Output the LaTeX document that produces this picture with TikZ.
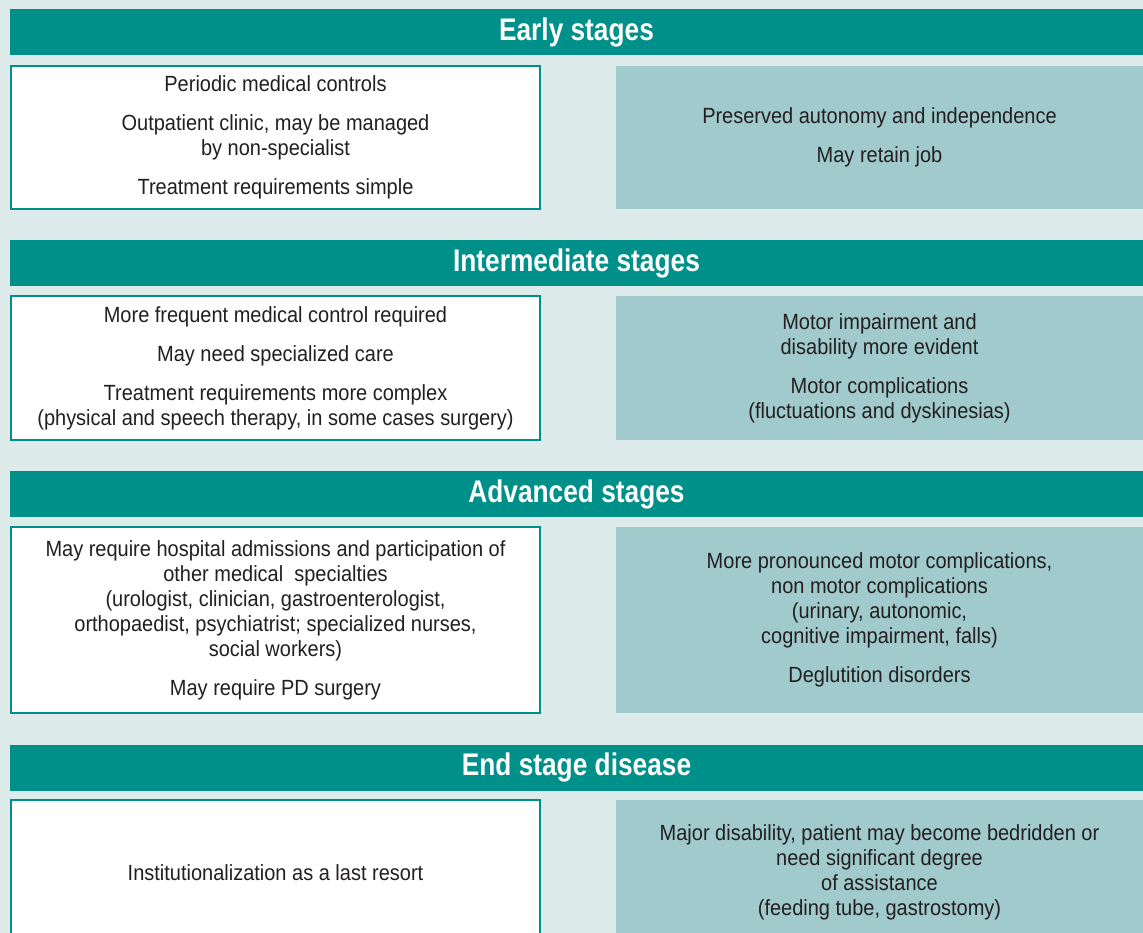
\documentclass[tikz,border=0pt]{standalone}
\usepackage{fontspec}
\setmainfont{Liberation Sans}[FakeStretch=0.91]
\newfontfamily\hdrfont{Liberation Sans}[FakeStretch=0.84]
\usepackage{tikz}

\definecolor{pageBg}{HTML}{DDEBEB}
\definecolor{stageTeal}{HTML}{00908A}
\definecolor{statusFill}{HTML}{A0CACB}
\definecolor{bodyText}{HTML}{231F20}

\begin{document}
\begin{tikzpicture}[
		stagebar/.style={rectangle, fill=stageTeal, text=white, inner sep=0pt,
			minimum width=22.66cm, minimum height=0.92cm,
			font=\hdrfont\bfseries\fontsize{17.8}{20}\selectfont},
		carebox/.style={rectangle, draw=stageTeal, line width=0.04cm, fill=white,
			text=bodyText, align=center, inner sep=0pt, minimum width=10.58cm,
			font=\fontsize{12.5}{14.2}\selectfont},
		statusbox/.style={rectangle, fill=statusFill, text=bodyText, align=center,
			inner sep=0pt, minimum width=10.54cm,
			font=\fontsize{12.5}{14.2}\selectfont}
	]
		
		% Page
		\fill[pageBg] (0,0) rectangle (22.86,-18.66);
		\useasboundingbox (0,0) rectangle (22.86,-18.66);
		
		% Stage headers
		
		\node[stagebar] (early) at (11.53,-0.64) {Early stages};
		\node[stagebar] (inter) at (11.53,-5.26) {Intermediate stages};
		\node[stagebar] (adv) at (11.53,-9.89) {Advanced stages};
		\node[stagebar] (endst) at (11.53,-15.35) {End stage disease};
		
		% Care (left)
		
		\node[carebox, minimum height=2.86cm]
		(care1) at (5.51,-2.75) {Periodic medical controls\\[8pt]
			Outpatient clinic, may be managed\\ by non-specialist\\[8pt]
			Treatment requirements simple};
		\node[carebox, minimum height=2.88cm]
		(care2) at (5.51,-7.36) {More frequent medical control required\\[8pt]
			May need specialized care\\[8pt]
			Treatment requirements more complex\\
			(physical and speech therapy, in some cases surgery)};
		\node[carebox, minimum height=3.72cm]
		(care3) at (5.51,-12.4) {May require hospital admissions and participation of\\
			other medical\ \ specialties\\
			(urologist, clinician, gastroenterologist,\\
			orthopaedist, psychiatrist; specialized nurses,\\
			social workers)\\[8pt]
			May require PD surgery};
		\node[carebox, minimum height=2.9cm]
		(care4) at (5.51,-17.45) {Institutionalization as a last resort};
		
		% Patient status (right)
		
		\node[statusbox, minimum height=2.86cm]
		(stat1) at (17.59,-2.75) {Preserved autonomy and independence\\[8pt]
			May retain job};
		\node[statusbox, minimum height=2.88cm]
		(stat2) at (17.59,-7.36) {Motor impairment and\\ disability more evident\\[8pt]
			Motor complications\\ (fluctuations and dyskinesias)};
		\node[statusbox, minimum height=3.72cm]
		(stat3) at (17.59,-12.4) {More pronounced motor complications,\\
			non motor complications\\ (urinary, autonomic,\\
			cognitive impairment, falls)\\[8pt]
			Deglutition disorders};
		\node[statusbox, minimum height=2.9cm]
		(stat4) at (17.59,-17.45) {Major disability, patient may become bedridden or\\
			need significant degree\\ of assistance\\
			(feeding tube, gastrostomy)};
		
	\end{tikzpicture}
\end{document}
